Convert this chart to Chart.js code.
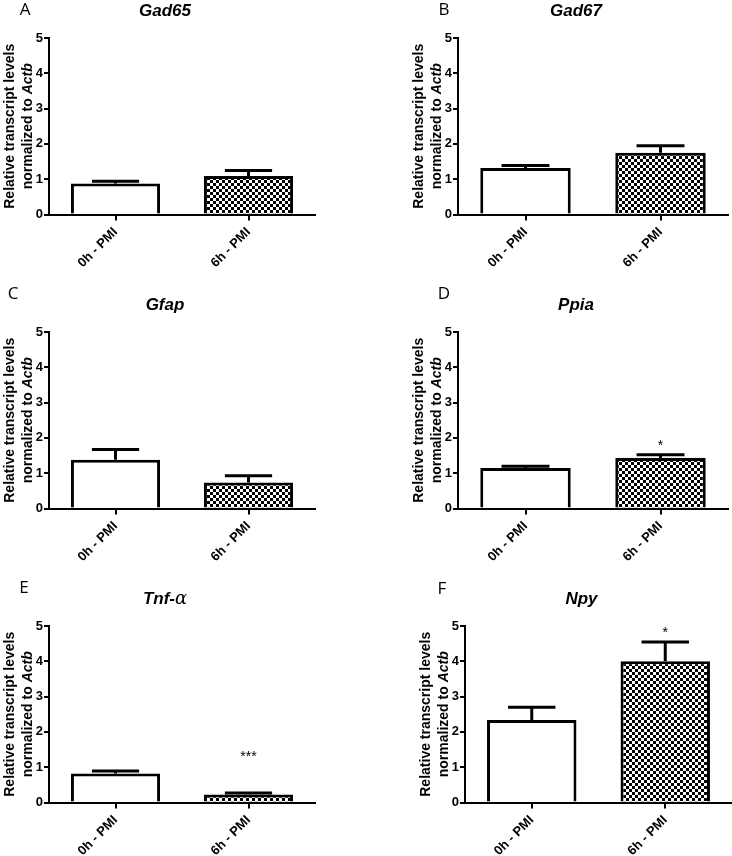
<!DOCTYPE html>
<html>
<head>
<meta charset="utf-8">
<script src="https://cdn.jsdelivr.net/npm/chart.js@4.4.1/dist/chart.umd.min.js"></script>
<style>
  body { margin: 0; background: #fff; }
  #fig { position: relative; width: 732px; height: 856px; overflow: hidden; }
  #fig canvas { position: absolute; }
  .letter { position: absolute; font: 17px "Open Sans", sans-serif; color: #000;
            transform: translate(-50%, -50%); line-height: 1; }
</style>
</head>
<body>
<div id="fig"></div>
<script>
// groups on the x axis
const groups = ["0h - PMI", "6h - PMI"];

// mean and SEM (relative transcript level, normalized to Actb)
const gad65 = [0.88, 1.09],  gad65Sem = [0.06, 0.16];
const gad67 = [1.32, 1.75],  gad67Sem = [0.07, 0.20];
const gfap  = [1.38, 0.74],  gfapSem  = [0.29, 0.19];
const ppia  = [1.15, 1.43],  ppiaSem  = [0.05, 0.09];
const tnfa  = [0.82, 0.23],  tnfaSem  = [0.07, 0.04];
const npy   = [2.34, 4.00],  npySem   = [0.36, 0.55];

// significance marks and the level they sit at
const ppiaSig = ["", "*"],   ppiaSigAt = [null, 1.86];
const tnfaSig = ["", "***"], tnfaSigAt = [null, 1.38];
const npySig  = ["", "*"],   npySigAt  = [null, 4.88];

const FONT = '"Liberation Sans", Arial, sans-serif';
const TITLE_FONT = 'bold italic 17px ' + FONT;

// checkerboard fill for the 6h bars
function checker() {
  const c = document.createElement("canvas");
  c.width = 6; c.height = 6;
  const g = c.getContext("2d");
  g.fillStyle = "#fff"; g.fillRect(0, 0, 6, 6);
  g.fillStyle = "#000";
  g.fillRect(0, 0, 3, 3); g.fillRect(3, 3, 3, 3);
  return g.createPattern(c, "repeat");
}
const pattern = checker();

// draw a row of text pieces with different fonts, centred on x
function drawPieces(ctx, pieces, x, y) {
  let total = 0;
  pieces.forEach(p => { ctx.font = p[1]; total += ctx.measureText(p[0]).width; });
  let cx = x - total / 2;
  ctx.textAlign = "left";
  pieces.forEach(p => {
    ctx.font = p[1];
    ctx.fillText(p[0], cx, y);
    cx += ctx.measureText(p[0]).width;
  });
}

const errorBars = {
  id: "errorBars",
  afterDatasetsDraw(chart, args, opts) {
    const { ctx, scales: { y } } = chart;
    const ds = chart.data.datasets[0];
    ctx.save();
    ctx.strokeStyle = "#000";
    ctx.lineWidth = 3;
    chart.getDatasetMeta(0).data.forEach((bar, i) => {
      const top = y.getPixelForValue(ds.data[i]);
      const hi = y.getPixelForValue(ds.data[i] + opts.sem[i]);
      const half = bar.width * 0.265;
      ctx.beginPath();
      ctx.moveTo(bar.x, top); ctx.lineTo(bar.x, hi);
      ctx.moveTo(bar.x - half, hi); ctx.lineTo(bar.x + half, hi);
      ctx.stroke();
    });
    // significance stars
    if (opts.sig) {
      ctx.fillStyle = "#000";
      ctx.font = "14px " + FONT;
      ctx.textAlign = "center";
      ctx.textBaseline = "middle";
      chart.getDatasetMeta(0).data.forEach((bar, i) => {
        if (opts.sig[i]) ctx.fillText(opts.sig[i], bar.x, y.getPixelForValue(opts.sigAt[i]) + 3);
      });
    }
    ctx.restore();
  }
};

const labels = {
  id: "labels",
  afterDraw(chart, args, opts) {
    const { ctx, chartArea: { left, right, top, bottom } } = chart;
    ctx.save();
    ctx.fillStyle = "#000";
    ctx.textBaseline = "middle";
    // panel title
    drawPieces(ctx, opts.title, (left + right) / 2 - 17, 11);
    // y axis title, two lines
    ctx.translate(left - 39, (top + bottom) / 2);
    ctx.rotate(-Math.PI / 2);
    drawPieces(ctx, [["Relative transcript levels", "bold 14px " + FONT]], 0, 0);
    drawPieces(ctx, [["normalized to ", "bold 14px " + FONT], ["Actb", "bold italic 14px " + FONT]], 0, 18);
    ctx.restore();
  }
};

function makePanel(p) {
  const fig = document.getElementById("fig");
  const cv = document.createElement("canvas");
  cv.width = p.w; cv.height = 285;
  cv.style.left = p.x + "px"; cv.style.top = p.y + "px";
  fig.appendChild(cv);

  const lt = document.createElement("div");
  lt.className = "letter";
  lt.textContent = p.letter;
  lt.style.left = p.lx + "px"; lt.style.top = p.ly + "px";
  fig.appendChild(lt);

  new Chart(cv, {
    type: "bar",
    data: {
      labels: groups,
      datasets: [{
        data: p.values,
        backgroundColor: ["#fff", pattern],
        borderColor: "#000",
        borderWidth: 3,
        barPercentage: 0.67,
        categoryPercentage: 1
      }]
    },
    options: {
      responsive: false,
      animation: false,
      layout: { padding: { left: 29, top: 38, right: p.w - 49 - p.plotW, bottom: 4.5 } },
      plugins: {
        legend: { display: false },
        tooltip: { enabled: false },
        errorBars: { sem: p.sem, sig: p.sig, sigAt: p.sigAt },
        labels: { title: p.title }
      },
      scales: {
        x: {
          z: 1,
          afterFit: s => { s.height = 66; },
          grid: { offset: false, drawOnChartArea: false, tickLength: 6, color: "#000", lineWidth: 2 },
          border: { color: "#000", width: 2 },
          ticks: { color: "#000", font: { family: FONT, size: 13, weight: "bold" },
                   minRotation: 45, maxRotation: 45, padding: 4 }
        },
        y: {
          z: 1,
          min: 0, max: 5,
          afterFit: s => { s.width = 20; },
          grid: { drawOnChartArea: false, tickLength: 5, color: "#000", lineWidth: 2 },
          border: { color: "#000", width: 2 },
          ticks: { stepSize: 1, color: "#000", padding: 1, font: { family: FONT, size: 13, weight: "bold" } }
        }
      }
    },
    plugins: [errorBars, labels]
  });
}

makePanel({ letter: "A", lx: 25, ly: 8, x: 0, y: 0, w: 320, plotW: 266,
  values: gad65, sem: gad65Sem, title: [["Gad65", TITLE_FONT]] });
makePanel({ letter: "B", lx: 444, ly: 8, x: 409, y: 0, w: 323, plotW: 270,
  values: gad67, sem: gad67Sem, title: [["Gad67", TITLE_FONT]] });
makePanel({ letter: "C", lx: 13, ly: 292, x: 0, y: 294, w: 320, plotW: 266,
  values: gfap, sem: gfapSem, title: [["Gfap", TITLE_FONT]] });
makePanel({ letter: "D", lx: 444, ly: 292, x: 409, y: 294, w: 323, plotW: 270,
  values: ppia, sem: ppiaSem, sig: ppiaSig, sigAt: ppiaSigAt, title: [["Ppia", TITLE_FONT]] });
makePanel({ letter: "E", lx: 24, ly: 586, x: 0, y: 588, w: 320, plotW: 266,
  values: tnfa, sem: tnfaSem, sig: tnfaSig, sigAt: tnfaSigAt,
  title: [["Tnf-", TITLE_FONT], ["α", 'italic 18px "DejaVu Serif", serif']] });
makePanel({ letter: "F", lx: 442, ly: 587, x: 416, y: 588, w: 316, plotW: 267,
  values: npy, sem: npySem, sig: npySig, sigAt: npySigAt, title: [["Npy", TITLE_FONT]] });
</script>
</body>
</html>
